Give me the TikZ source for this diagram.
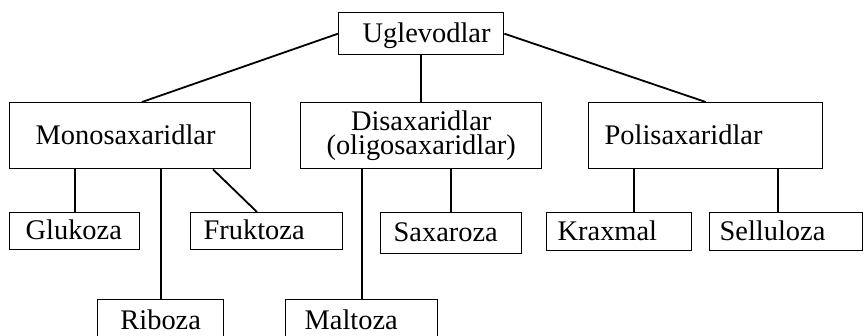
\documentclass[tikz,border=0pt]{standalone}
\usepackage{fontspec}
\setmainfont{Liberation Serif}
\usetikzlibrary{calc, positioning}

\begin{document}
\begin{tikzpicture}[x=0.5pt, y=-0.5pt,
    box/.style={draw, line width=0.7pt, anchor=north west, align=left,
        font=\fontsize{14.2pt}{12pt}\selectfont,
        text height=9.6pt, text depth=0.8pt, inner ysep=0pt},
    link/.style={line width=0.9pt}]
    % Frame of the picture
    \useasboundingbox (0,0) rectangle (864,336);
    \clip (0,0) rectangle (864,336);

    % Top level
    \node[box, align=center, text width=58.5pt, inner xsep=12pt, minimum height=21pt] (ugl) at (338,12) {Uglevodlar};

    % Second level
    \node[box, text width=94.5pt, inner xsep=13pt, minimum height=33pt] (mono) at (9,102) {Monosaxaridlar};
    \node[box, align=center, text width=110.5pt, inner xsep=5pt, minimum height=33pt, text depth=14.6pt] (dis) at (300,102) {Disaxaridlar\\(oligosaxaridlar)};
    \node[box, text width=101pt, inner xsep=8pt, minimum height=33pt] (pol) at (588,102) {Polisaxaridlar};

    % Third level
    \node[box, text width=49pt, inner xsep=8pt, minimum height=18.5pt] (glu) at (9,212) {Glukoza};
    \node[box, text width=63pt, inner xsep=6.5pt, minimum height=18.5pt] (fru) at (190,212) {Fruktoza};
    \node[box, text width=57.5pt, inner xsep=6.5pt, minimum height=20.5pt] (sax) at (380,212) {Saxaroza};
    \node[box, text width=61.5pt, inner xsep=5.5pt, minimum height=19pt] (kra) at (546,212) {Kraxmal};
    \node[box, text width=66.5pt, inner xsep=5pt, minimum height=19pt] (sel) at (709,212) {Selluloza};

    % Bottom level (cut by the frame)
    \node[box, align=center, text width=53pt, inner xsep=5pt, minimum height=21pt] (rib) at (97,299) {Riboza};
    \node[box, text width=57pt, inner xsep=9.5pt, minimum height=21pt] (mal) at (285,299) {Maltoza};

    % Connectors
    \draw[link] (ugl.west) -- ($(mono.north west)+(133,0)$);
    \draw[link] (ugl.south) -- (dis.north);
    \draw[link] (ugl.east) -- (pol.north);
    \draw[link] (glu.north |- mono.south) -- (glu.north);
    \draw[link] (rib.north |- mono.south) -- (rib.north);
    \draw[link] ($(mono.south west)+(204,0)$) -- ($(fru.north west)+(67,0)$);
    \draw[link] (sax.north |- dis.south) -- (sax.north);
    \draw[link] (mal.north |- dis.south) -- (mal.north);
    \coordinate (pk) at ($(pol.south)+(-72,0)$);
    \coordinate (ps) at ($(pol.south)+(72,0)$);
    \draw[link] (pk) -- (pk |- kra.north);
    \draw[link] (ps) -- (ps |- sel.north);
\end{tikzpicture}
\end{document}
